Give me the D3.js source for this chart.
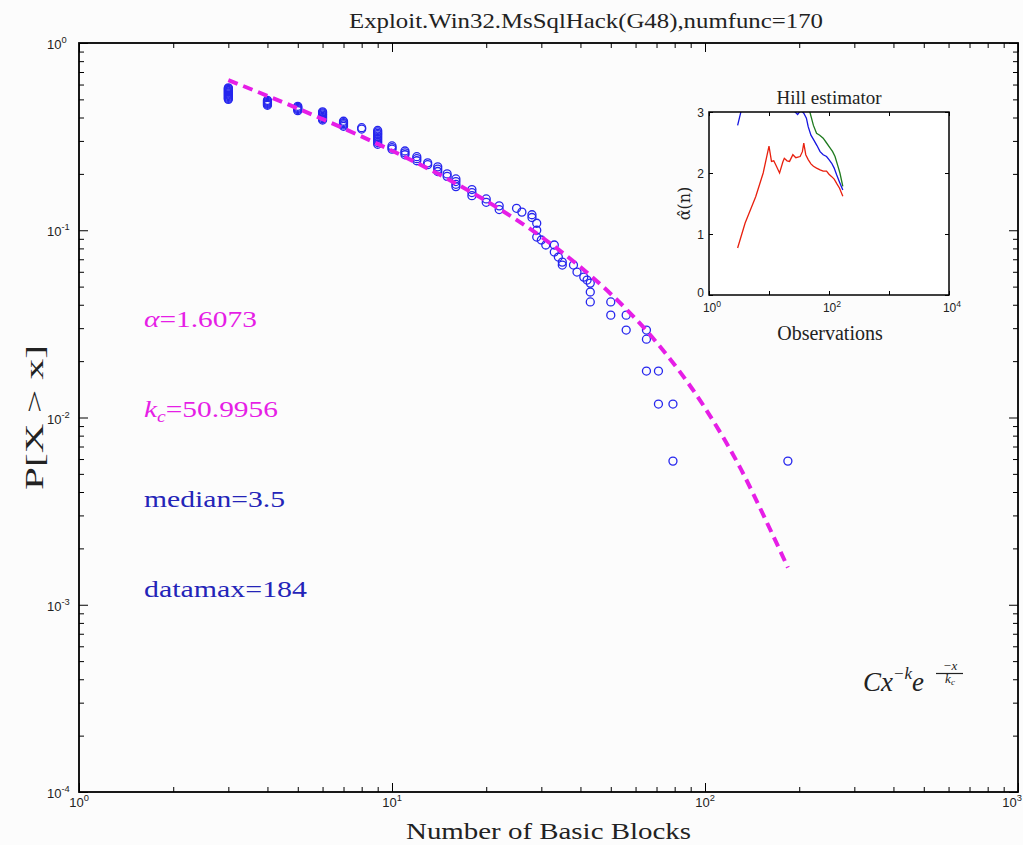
<!DOCTYPE html>
<html>
<head>
<meta charset="utf-8">
<script src="https://cdn.jsdelivr.net/npm/d3@7"></script>
<style>
  body { margin: 0; background: #fcfcfc; }
  svg { display: block; }
</style>
</head>
<body>
<div id="chart"></div>
<script>

// ---- data ----
var titleText = "Exploit.Win32.MsSqlHack(G48),numfunc=170";

// empirical P[X > x], one entry per marker
var pointX = [
  3,3,3,3,3,3,3,3,3,3,3,3,3,3,
  4,4,4,4,4,4,
  5,5,5,5,5,
  6,6,6,6,6,6,6,6,
  7,7,7,7,7,
  8,8,
  9,9,9,9,9,9,9,9,9,9,
  10,10,10,
  11,11,11,
  12,12,12,
  13,13,
  14,14,14,
  15,15,
  16,16,16,16,
  18,18,18,
  20,20,
  22,22,
  25,26,28,28,29,29,29,30,31,33,33,34,35,35,38,39,41,42,43,43,43,
  50,50,56,56,65,65,65,71,71,79,79,184
];
var pointY = [
  0.576,0.571,0.565,0.559,0.553,0.547,0.541,0.535,0.529,0.524,0.518,0.512,0.506,0.500,
  0.494,0.488,0.482,0.476,0.471,0.465,
  0.459,0.453,0.447,0.441,0.435,
  0.429,0.424,0.418,0.412,0.406,0.400,0.394,0.388,
  0.382,0.376,0.371,0.365,0.359,
  0.353,0.347,
  0.341,0.335,0.329,0.324,0.318,0.312,0.306,0.300,0.294,0.288,
  0.282,0.276,0.271,
  0.265,0.259,0.253,
  0.247,0.241,0.235,
  0.229,0.224,
  0.218,0.212,0.206,
  0.200,0.194,
  0.188,0.182,0.176,0.171,
  0.165,0.159,0.153,
  0.147,0.141,
  0.135,0.129,
  0.131,0.125,0.121,0.117,0.109,0.100,0.092,0.0887,0.0834,0.0834,0.0765,0.0719,0.0676,0.0652,0.0652,0.0598,0.0562,0.0542,0.0522,0.0468,0.0414,
  0.0414,0.0352,0.0352,0.0293,0.0293,0.0262,0.0177,0.0177,0.0118,0.0118,0.00585,0.00585
];

// fitted C x^-k e^(-x/kc) curve, sampled
var fitX = [3, 4, 5, 7, 10, 15, 20, 30, 40, 50, 70, 100, 130, 160, 184];
var fitY = [0.634, 0.522, 0.447, 0.350, 0.266, 0.1885, 0.1435, 0.0922, 0.0636, 0.0457, 0.0252, 0.01125, 0.00533, 0.00261, 0.00158];

// Hill estimator inset
var hillRedN = [3,4,6,8,10,11,12,13,15,17,18,20,22,25,28,33,36,38,41,45,50,55,62,71,80,91,100,111,122,134,150,170];
var hillRedA = [0.77,1.18,1.61,2.0,2.44,2.19,2.2,2.13,2.0,2.18,2.24,2.2,2.19,2.3,2.25,2.27,2.35,2.49,2.3,2.22,2.15,2.11,2.08,2.05,2.03,2.03,1.98,1.94,1.9,1.83,1.75,1.62];
var hillBlueN = [3,3.4,4,8,15,22,26,30,34,38,42,45,50,55,63,71,80,91,100,111,122,134,150,170];
var hillBlueA = [2.78,3.0,3.5,4.2,4.0,3.3,3.02,2.96,3.03,2.98,2.9,2.76,2.62,2.55,2.45,2.35,2.3,2.27,2.22,2.16,2.08,1.97,1.85,1.72];
var hillGreenN = [30,40,48,55,62,70,80,90,104,115,126,140,152,170];
var hillGreenA = [3.6,3.3,3.0,2.78,2.65,2.62,2.57,2.5,2.41,2.35,2.27,2.12,2.0,1.78];

var xMajor = [1, 10, 100, 1000];
var xMajorExp = ["0", "1", "2", "3"];
var yMajor = [1, 0.1, 0.01, 0.001, 0.0001];
var yMajorExp = ["0", "-1", "-2", "-3", "-4"];

var insetXTicks = [1, 10, 100, 1000, 10000];
var insetXLabels = [1, 100, 10000];
var insetXLabelExp = ["0", "2", "4"];
var insetYTicks = [0, 1, 2, 3];

// ---- figure ----
var W = 1023, H = 845;
var margin = {left: 79, right: 5, top: 43, bottom: 53};
var serif = "'Liberation Serif', 'DejaVu Serif', serif";
var sans = "'Liberation Sans', Arial, sans-serif";
var magenta = "#e61ee6", blueText = "#2424b8", blueMark = "#2626ee";

var svg = d3.select("#chart").append("svg").attr("width", W).attr("height", H);
svg.append("rect").attr("width", W).attr("height", H).attr("fill", "#fcfcfc");

var x = d3.scaleLog().domain([1, 1000]).range([margin.left, W - margin.right]);
var y = d3.scaleLog().domain([1e-4, 1]).range([H - margin.bottom, margin.top]);

function minorTicks(lo, hi) {
  var out = [];
  for (var d = lo; d < hi; d++) {
    for (var m = 2; m <= 9; m++) out.push(m * Math.pow(10, d));
  }
  return out;
}

function tickAxis(axisFn, scale, values, len, transform) {
  var g = svg.append("g").attr("transform", transform)
    .call(axisFn(scale).tickValues(values).tickSizeInner(-len).tickSizeOuter(0).tickFormat(""));
  g.select(".domain").remove();
  g.selectAll(".tick line").attr("stroke", "#000").attr("stroke-width", 1);
  return g;
}

var xMinor = minorTicks(0, 3), yMinor = minorTicks(-4, 0);
var x0 = x.range()[0], x1 = x.range()[1], yb = y.range()[0], yt = y.range()[1];

[[xMajor, 9], [xMinor, 5]].forEach(function (t) {
  tickAxis(d3.axisBottom, x, t[0], t[1], "translate(0," + yb + ")");
  tickAxis(d3.axisTop, x, t[0], t[1], "translate(0," + yt + ")");
});
[[yMajor, 9], [yMinor, 5]].forEach(function (t) {
  tickAxis(d3.axisLeft, y, t[0], t[1], "translate(" + x0 + ",0)");
  tickAxis(d3.axisRight, y, t[0], t[1], "translate(" + x1 + ",0)");
});

svg.append("rect").attr("x", x0).attr("y", yt).attr("width", x1 - x0).attr("height", yb - yt)
  .attr("fill", "none").attr("stroke", "#000").attr("stroke-width", 1.8);

function powLabel(px, py, anchor, exp, size) {
  var t = svg.append("text").attr("x", px).attr("y", py).attr("text-anchor", anchor)
    .attr("font-family", sans).attr("font-size", size).attr("fill", "#222");
  t.append("tspan").text("10");
  t.append("tspan").attr("dy", -size * 0.45).attr("font-size", size * 0.72).text(exp);
  return t;
}

// last x label sits against the right edge, as in the picture
xMajor.forEach(function (v, i) {
  var last = i === xMajor.length - 1;
  powLabel(last ? W - 1 : x(v), yb + 15, last ? "end" : "middle", xMajorExp[i], 13);
});
yMajor.forEach(function (v, i) { powLabel(47, y(v) + 6, "start", yMajorExp[i], 13); });

// title and axis labels
svg.append("text").attr("x", 586).attr("y", 28).attr("text-anchor", "middle")
  .attr("font-family", serif).attr("font-size", 22).attr("fill", "#222")
  .attr("textLength", 474).attr("lengthAdjust", "spacingAndGlyphs").text(titleText);

svg.append("text").attr("x", (x0 + x1) / 2).attr("y", 839).attr("text-anchor", "middle")
  .attr("font-family", serif).attr("font-size", 24).attr("fill", "#222")
  .attr("textLength", 285).attr("lengthAdjust", "spacingAndGlyphs").text("Number of Basic Blocks");

svg.append("text").attr("transform", "translate(43," + ((yt + yb) / 2) + ") rotate(-90)")
  .attr("text-anchor", "middle").attr("font-family", serif).attr("font-size", 25).attr("fill", "#222")
  .attr("textLength", 145).attr("lengthAdjust", "spacingAndGlyphs").text("P[X > x]");

// fitted curve + markers
var plot = svg.append("g");
plot.selectAll("circle.obs").data(pointX).enter().append("circle").classed("obs", true)
  .attr("cx", function (d) { return x(d); })
  .attr("cy", function (d, i) { return y(pointY[i]); })
  .attr("r", 4).attr("fill", "none").attr("stroke", blueMark).attr("stroke-width", 1.3);

var fitLine = d3.line().curve(d3.curveMonotoneX)
  .x(function (d) { return x(d); })
  .y(function (d, i) { return y(fitY[i]); });

plot.append("path").attr("d", fitLine(fitX)).attr("fill", "none")
  .attr("stroke", magenta).attr("stroke-width", 4).attr("stroke-dasharray", "10,6");

// annotations
function note(py, color, width) {
  return svg.append("text").attr("x", 144).attr("y", py).attr("font-family", serif)
    .attr("font-size", 24).attr("fill", color)
    .attr("textLength", width).attr("lengthAdjust", "spacingAndGlyphs");
}
var a1 = note(327, magenta, 113);
a1.append("tspan").attr("font-style", "italic").text("α");
a1.append("tspan").text("=1.6073");
var a2 = note(417, magenta, 134);
a2.append("tspan").attr("font-style", "italic").text("k");
a2.append("tspan").attr("font-style", "italic").attr("font-size", 16).attr("dy", 5).text("c");
a2.append("tspan").attr("dy", -5).text("=50.9956");
note(507, blueText, 141).text("median=3.5");
note(597, blueText, 163).text("datamax=184");

// formula C x^-k e^(-x/kc)
var f = svg.append("text").attr("x", 863).attr("y", 691).attr("font-family", serif)
  .attr("font-size", 27).attr("font-style", "italic").attr("fill", "#222");
f.append("tspan").text("Cx");
f.append("tspan").attr("dy", -12).attr("font-size", 17).text("−k");
f.append("tspan").attr("dy", 12).text("e");
svg.append("text").attr("x", 950).attr("y", 670).attr("text-anchor", "middle")
  .attr("font-family", serif).attr("font-size", 13).attr("font-style", "italic").attr("fill", "#222").text("−x");
svg.append("line").attr("x1", 936).attr("x2", 963).attr("y1", 673.5).attr("y2", 673.5)
  .attr("stroke", "#222").attr("stroke-width", 1.2);
var den = svg.append("text").attr("x", 950).attr("y", 683).attr("text-anchor", "middle")
  .attr("font-family", serif).attr("font-size", 13).attr("font-style", "italic").attr("fill", "#222");
den.append("tspan").text("k");
den.append("tspan").attr("font-size", 9).attr("dy", 2).text("c");

// ---- inset: Hill estimator ----
var ix = d3.scaleLog().domain([1, 10000]).range([709, 949]);
var iy = d3.scaleLinear().domain([0, 3]).range([295, 112]);
var ix0 = ix.range()[0], ix1 = ix.range()[1], iyb = iy.range()[0], iyt = iy.range()[1];

svg.append("rect").attr("x", ix0).attr("y", iyt).attr("width", ix1 - ix0).attr("height", iyb - iyt)
  .attr("fill", "#ffffff");

svg.append("clipPath").attr("id", "insetClip").append("rect")
  .attr("x", ix0).attr("y", iyt).attr("width", ix1 - ix0).attr("height", iyb - iyt);

var hill = svg.append("g").attr("clip-path", "url(#insetClip)");
[[hillGreenN, hillGreenA, "#1e7a1e"], [hillBlueN, hillBlueA, "#1515e0"], [hillRedN, hillRedA, "#e8200e"]]
  .forEach(function (s) {
    var line = d3.line()
      .x(function (d) { return ix(d); })
      .y(function (d, i) { return iy(s[1][i]); });
    hill.append("path").attr("d", line(s[0])).attr("fill", "none")
      .attr("stroke", s[2]).attr("stroke-width", 1.3);
  });

tickAxis(d3.axisBottom, ix, insetXTicks, 4, "translate(0," + iyb + ")");
tickAxis(d3.axisTop, ix, insetXTicks, 4, "translate(0," + iyt + ")");
tickAxis(d3.axisLeft, iy, insetYTicks, 4, "translate(" + ix0 + ",0)");
tickAxis(d3.axisRight, iy, insetYTicks, 4, "translate(" + ix1 + ",0)");

svg.append("rect").attr("x", ix0).attr("y", iyt).attr("width", ix1 - ix0).attr("height", iyb - iyt)
  .attr("fill", "none").attr("stroke", "#000").attr("stroke-width", 1.5);

insetYTicks.forEach(function (v) {
  svg.append("text").attr("x", ix0 - 5).attr("y", iy(v) + (v === 0 ? 2 : 5)).attr("text-anchor", "end")
    .attr("font-family", sans).attr("font-size", 12).attr("fill", "#222").text(v);
});
insetXLabels.forEach(function (v, i) { powLabel(ix(v) + 3, iyb + 17, "middle", insetXLabelExp[i], 12); });

svg.append("text").attr("x", (ix0 + ix1) / 2).attr("y", 104).attr("text-anchor", "middle")
  .attr("font-family", serif).attr("font-size", 19).attr("fill", "#222").text("Hill estimator");
svg.append("text").attr("x", 830).attr("y", 340).attr("text-anchor", "middle")
  .attr("font-family", serif).attr("font-size", 20).attr("fill", "#222").text("Observations");
svg.append("text").attr("transform", "translate(690," + ((iyt + iyb) / 2) + ") rotate(-90)")
  .attr("text-anchor", "middle").attr("font-family", "'DejaVu Serif', serif").attr("font-size", 16).attr("fill", "#222")
  .text("α\u0302(n)");

</script>
</body>
</html>
